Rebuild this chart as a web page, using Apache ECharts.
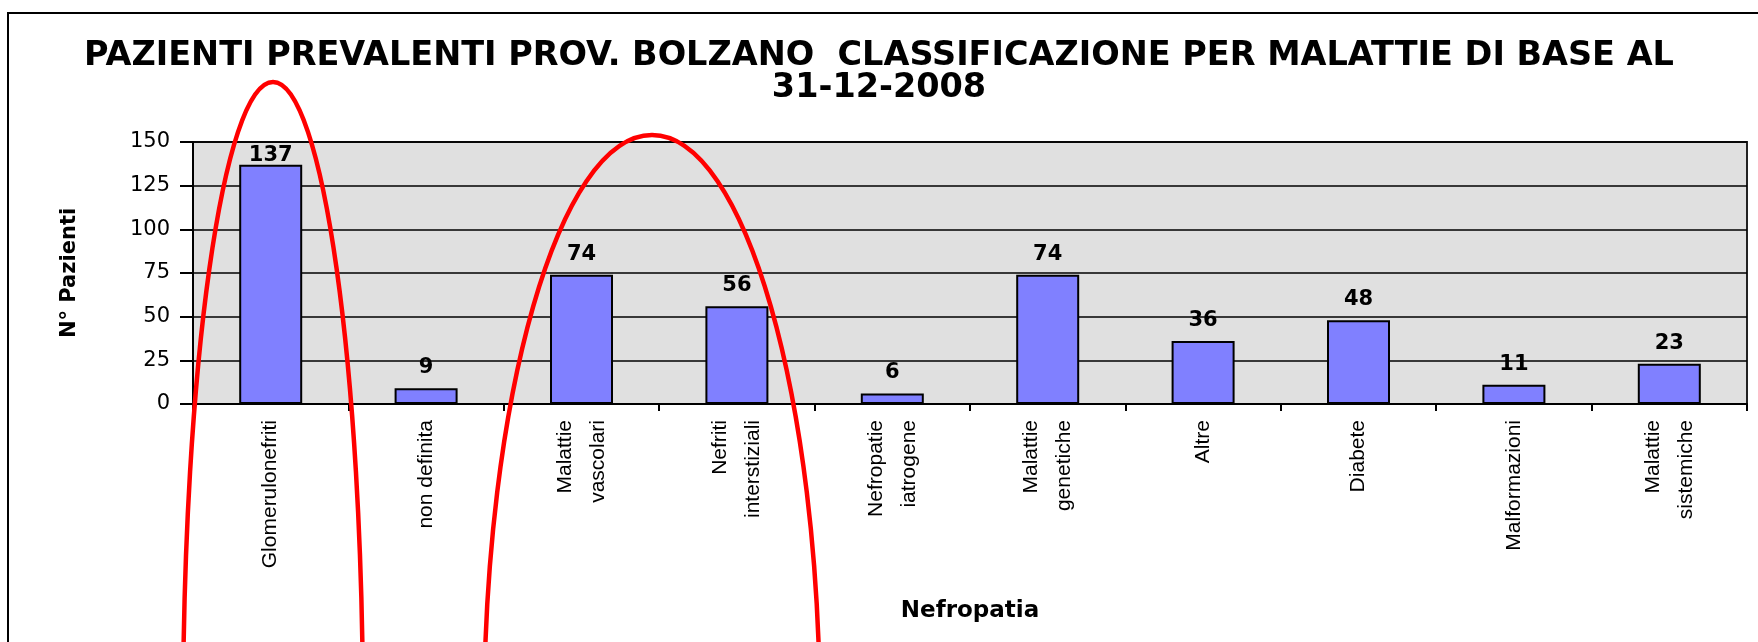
<!DOCTYPE html>
<html lang="it">
  <head>
    <meta charset="UTF-8" />
    <meta name="viewport" content="width=device-width, initial-scale=1.0" />
    <title>Pazienti prevalenti Prov. Bolzano</title>
    <script src="https://cdn.jsdelivr.net/npm/echarts@6.0.0/dist/echarts.min.js"></script>
    <style>
      html, body { margin: 0; padding: 0; background: #fff; }
      #main { width: 1758px; height: 642px; }
    </style>
  </head>
  <body>
    <div id="main"></div>
    <script type="text/javascript">
      // dati
      var categories = [
        "Glomerulonefriti",
        "non definita",
        "Malattie\nvascolari",
        "Nefriti\ninterstiziali",
        "Nefropatie\niatrogene",
        "Malattie\ngenetiche",
        "Altre",
        "Diabete",
        "Malformazioni",
        "Malattie\nsistemiche",
      ];
      var patients = [137, 9, 74, 56, 6, 74, 36, 48, 11, 23];
      var yMin = 0;
      var yMax = 150;
      var yStep = 25;

      var titleText =
        "PAZIENTI PREVALENTI PROV. BOLZANO  CLASSIFICAZIONE PER MALATTIE DI BASE AL\n31-12-2008";

      var myChart = echarts.init(document.getElementById("main"));

      // la etichetta del valore massimo sta appena sopra la barra (come nell'originale)
      var barData = patients.map(function (v) {
        return { value: v, label: { distance: v / yMax > 0.85 ? -1 : 10 } };
      });

      var option = {
        backgroundColor: "#fff",
        animation: false,
        title: {
          text: titleText,
          left: "center",
          top: 40,
          padding: 0,
          textStyle: {
            fontFamily: "DejaVu Sans",
            fontWeight: "bold",
            fontSize: 33.5,
            lineHeight: 32,
            color: "#000",
          },
        },
        grid: {
          left: 193,
          right: 11,
          top: 142,
          bottom: 238,
          show: true,
          backgroundColor: "#E0E0E0",
          borderColor: "#222",
          borderWidth: 2,
          outerBoundsMode: "none",
        },
        xAxis: {
          type: "category",
          data: categories,
          name: "Nefropatia",
          nameLocation: "middle",
          nameGap: 196,
          nameTextStyle: {
            fontFamily: "DejaVu Sans",
            fontWeight: "bold",
            fontSize: 23,
            color: "#000",
          },
          axisLine: { lineStyle: { color: "#000", width: 2 } },
          axisTick: { show: true, length: 7, lineStyle: { color: "#000", width: 2 } },
          axisLabel: {
            interval: 0,
            rotate: 90,
            margin: 16,
            fontFamily: "Liberation Sans",
            fontSize: 21,
            lineHeight: 33,
            color: "#000",
          },
        },
        yAxis: {
          type: "value",
          min: yMin,
          max: yMax,
          interval: yStep,
          name: "N° Pazienti",
          nameLocation: "middle",
          nameGap: 113,
          nameTextStyle: {
            fontFamily: "DejaVu Sans",
            fontWeight: "bold",
            fontSize: 21,
            color: "#000",
          },
          axisLine: { show: true, lineStyle: { color: "#000", width: 2 } },
          axisTick: { show: true, length: 13, lineStyle: { color: "#000", width: 2 } },
          axisLabel: {
            margin: 23,
            fontFamily: "DejaVu Sans",
            fontSize: 21,
            color: "#000",
          },
          splitLine: { lineStyle: { color: "#000", width: 1.5 } },
        },
        series: [
          {
            name: "N° Pazienti",
            type: "bar",
            data: barData,
            barWidth: 63,
            itemStyle: {
              color: "#8080FF",
              borderColor: "#000",
              borderWidth: 2,
            },
            label: {
              show: true,
              position: "top",
              fontFamily: "DejaVu Sans",
              fontWeight: "bold",
              fontSize: 21,
              color: "#000",
            },
          },
        ],
        // cornice esterna e i due cerchi rossi disegnati a mano sull'originale
        graphic: [
          {
            type: "rect",
            z: 100,
            shape: { x: 8, y: 13, width: 1800, height: 700 },
            style: { fill: null, stroke: "#000", lineWidth: 2 },
            silent: true,
          },
          {
            type: "ellipse",
            z: 101,
            shape: { cx: 273, cy: 720, rx: 90, ry: 638 },
            style: { fill: null, stroke: "#FF0000", lineWidth: 4.5 },
            silent: true,
          },
          {
            type: "ellipse",
            z: 101,
            shape: { cx: 652, cy: 720, rx: 168, ry: 585 },
            style: { fill: null, stroke: "#FF0000", lineWidth: 4.5 },
            silent: true,
          },
        ],
      };

      myChart.setOption(option);

      window.onresize = function () {
        myChart.resize();
      };
    </script>
  </body>
</html>
